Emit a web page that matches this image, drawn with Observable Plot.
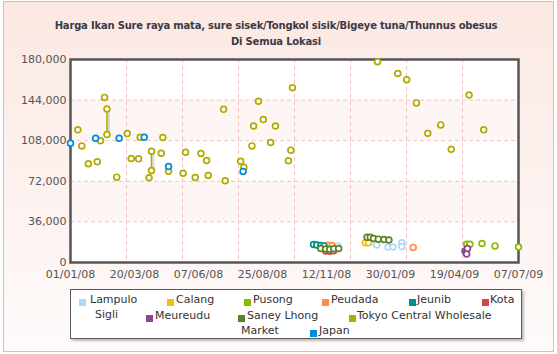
<!DOCTYPE html>
<html><head><meta charset="utf-8">
<script src="https://cdn.jsdelivr.net/npm/d3@7"></script>
<script src="https://cdn.jsdelivr.net/npm/@observablehq/plot@0.6"></script>
<style>
body{margin:0;background:#fff;}
#chart{position:relative;width:557px;height:354px;overflow:hidden;font-family:"DejaVu Sans",Verdana,sans-serif;}
#bg{position:absolute;left:3px;top:1px;width:549px;height:349px;border:1px solid #c6c6c6;background:linear-gradient(#fbe8e2,#fdf3f0 60%,#fefafa);}
#title{position:absolute;left:0;width:552px;top:18px;text-align:center;font-weight:bold;font-size:10px;letter-spacing:-0.2px;color:#3a3a48;line-height:16px;}
#plot{position:absolute;left:0;top:50px;}
#legend{position:absolute;left:70px;top:289px;width:450px;height:48px;border:1px solid #5a5a5a;background:#fff;box-shadow:2px 2px 2px rgba(0,0,0,0.25);}
.li{position:absolute;font-size:11px;color:#333;white-space:nowrap;line-height:12px;}
.sq{position:absolute;width:7px;height:7px;}
</style>
</head><body>
<div id="chart">
  <div id="bg"></div>
  <div id="title">Harga Ikan Sure raya mata, sure sisek/Tongkol sisik/Bigeye tuna/Thunnus obesus<br>Di Semua Lokasi</div>
  <div id="plot"></div>
  <div id="legend"></div>
</div>
<script>
// ---- data ----
const seriesNames = ["Lampulo","Calang","Pusong","Peudada","Jeunib","Kota Sigli","Meureudu","Saney Lhong","Tokyo Central Wholesale Market","Japan"];
const seriesColors = ["#AFD8F8","#F6BD0F","#8BBA00","#FF8E46","#008E8E","#D64646","#8E468E","#588526","#B3AA00","#008ED6"];
const xTickLabels = ["01/01/08","20/03/08","07/06/08","25/08/08","12/11/08","30/01/09","19/04/09","07/07/09"];
const yTickValues = [0,36000,72000,108000,144000,180000];

const lampulo = [["2008-11-26",14700],["2009-01-13",15600],["2009-01-27",13800],["2009-02-02",13800],["2009-02-13",17500],["2009-02-13",14100]];
const calang = [["2008-12-30",17500],["2009-01-03",17500]];
const pusong = [["2009-05-04",16200],["2009-05-08",16200],["2009-05-23",16800],["2009-06-08",14700],["2009-07-07",13800]];
const peudada = [["2008-11-14",15300],["2008-11-19",15000],["2009-02-27",13400]];
const jeunib = [["2008-10-27",16000],["2008-10-31",15500],["2008-11-05",15000],["2008-11-09",14700]];
const kotaSigli = [["2008-11-11",10300],["2008-11-16",10000],["2008-11-21",10500]];
const meureudu = [["2009-05-02",10300],["2009-05-03",9000],["2009-05-04",7600],["2009-05-05",12400]];
const saneyLhong = [["2008-11-05",12400],["2008-11-11",12000],["2008-11-16",11800],["2008-11-21",12200],["2008-11-27",12400],["2009-01-01",22300],["2009-01-05",22300],["2009-01-09",21300],["2009-01-15",20700],["2009-01-22",20400],["2009-01-28",19900]];
const tokyo = [["2008-01-10",117600],["2008-01-15",103400],["2008-01-23",87500],["2008-02-03",89300],["2008-02-07",107900],["2008-02-12",146400],["2008-02-15",136100],["2008-02-15",113400],["2008-02-27",75700],["2008-03-11",114300],["2008-03-16",92200],["2008-03-25",91900],["2008-03-27",111000],["2008-04-07",75100],["2008-04-10",98700],["2008-04-10",81600],["2008-04-22",96900],["2008-04-24",110800],["2008-05-01",81000],["2008-05-19",79200],["2008-05-22",97800],["2008-06-03",75400],["2008-06-10",96600],["2008-06-17",90400],["2008-06-19",77200],["2008-07-08",135800],["2008-07-10",72500],["2008-07-29",89800],["2008-08-02",84500],["2008-08-12",103400],["2008-08-14",121100],["2008-08-20",142900],["2008-08-26",126700],["2008-09-04",106400],["2008-09-10",121100],["2008-09-26",90200],["2008-09-29",99600],["2008-10-01",155000],["2009-01-14",178000],["2009-02-08",167600],["2009-02-19",162100],["2009-03-03",141500],["2009-03-17",114600],["2009-04-02",122000],["2009-04-15",100400],["2009-05-07",148500],["2009-05-25",117600]];
const japan = [["2008-01-01",105700],["2008-02-01",110200],["2008-03-01",110200],["2008-04-01",111000],["2008-05-01",85100],["2008-08-01",80700]];

const seriesData = [lampulo,calang,pusong,peudada,jeunib,kotaSigli,meureudu,saneyLhong,tokyo,japan];

// ---- build table ----
const parseISO = d3.utcParse("%Y-%m-%d");
const parseTick = d3.utcParse("%d/%m/%y");
const fmtTick = d3.utcFormat("%d/%m/%y");
const rows = [];
seriesData.forEach((arr, si) => arr.forEach(([d, v]) => rows.push({series: seriesNames[si], date: parseISO(d), value: v})));

// same-date pairs get a connecting vertical line
const segs = [];
d3.groups(rows, d => d.series, d => +d.date).forEach(([s, g]) => g.forEach(([t, pts]) => {
  if (pts.length > 1) segs.push({series: s, date: pts[0].date, y1: d3.min(pts, p => p.value), y2: d3.max(pts, p => p.value)});
}));

const xTicks = xTickLabels.map(parseTick);
const x0 = xTicks[0], x1 = xTicks[xTicks.length - 1];
const xGrid = d3.range(9).map(i => new Date(+x0 + i * (x1 - x0) / 8));
const bands = [[36000,72000],[108000,144000]].map(([a,b]) => ({a,b}));
const gridCol = "#f3c2c2";

const chart = Plot.plot({
  width: 557, height: 237,
  marginLeft: 70, marginRight: 39, marginTop: 9, marginBottom: 25,
  style: {background: "transparent", fontFamily: "DejaVu Sans, Verdana, sans-serif"},
  x: {type: "utc", domain: [x0, x1]},
  y: {domain: [0, 180000]},
  color: {domain: seriesNames, range: seriesColors},
  marks: [
    Plot.frame({fill: "#fff", stroke: "none"}),
    Plot.rectY(bands, {y1: "a", y2: "b", x1: x0, x2: x1, fill: "#fef6f4"}),
    Plot.ruleY(yTickValues.slice(1, -1), {stroke: gridCol, strokeDasharray: "4,3", strokeWidth: 1}),
    Plot.ruleX(xGrid.slice(1, -1), {stroke: gridCol, strokeDasharray: "4,3", strokeWidth: 1}),
    Plot.axisY(yTickValues, {tickSize: 0, tickPadding: 4, tickFormat: d3.format(","), fontSize: 11, fill: "#555"}),
    Plot.axisX(xTicks, {tickSize: 0, tickPadding: 8, tickFormat: fmtTick, fontSize: 11, fill: "#555"}),
    Plot.frame({stroke: "#555", strokeWidth: 2.5}),
    Plot.ruleX(segs, {x: "date", y1: "y1", y2: "y2", stroke: "#999", strokeOpacity: 0.35, strokeWidth: 2, dx: 2}),
    Plot.ruleX(segs, {x: "date", y1: "y1", y2: "y2", stroke: "series", strokeWidth: 1.6}),
    Plot.dot(rows, {x: "date", y: "value", r: 2.9, stroke: "series", strokeWidth: 1.7, fill: "#fff"})
  ]
});
document.getElementById("plot").appendChild(chart);

// ---- legend (HTML, below the svg) ----
const legendLayout = [
  {sq:[8,9], tx:[19,4], text:"Lampulo"},
  {sq:[96,9], tx:[105,4], text:"Calang"},
  {sq:[173,9], tx:[182,4], text:"Pusong"},
  {sq:[251,9], tx:[260,4], text:"Peudada"},
  {sq:[338,9], tx:[346,4], text:"Jeunib"},
  {sq:[411,9], tx:[419,4], text:"Kota"},
  {sq:null, tx:[24,19], text:"Sigli"},
  {sq:[75,25], tx:[84,20], text:"Meureudu"},
  {sq:[167,25], tx:[176,20], text:"Saney Lhong"},
  {sq:[278,25], tx:[286,20], text:"Tokyo Central Wholesale"},
  {sq:null, tx:[170,35], text:"Market"},
  {sq:[239,40], tx:[248,35], text:"Japan"}
];
const sqSeries = [0,1,2,3,4,5,null,6,7,8,null,9];
const leg = document.getElementById("legend");
legendLayout.forEach((it, i) => {
  if (it.sq) {
    const s = document.createElement("div");
    s.className = "sq";
    s.style.left = it.sq[0] + "px"; s.style.top = it.sq[1] + "px";
    s.style.background = seriesColors[sqSeries[i]];
    leg.appendChild(s);
  }
  const t = document.createElement("div");
  t.className = "li";
  t.style.left = it.tx[0] + "px"; t.style.top = it.tx[1] + "px";
  t.textContent = it.text;
  leg.appendChild(t);
});
</script>
</body></html>
